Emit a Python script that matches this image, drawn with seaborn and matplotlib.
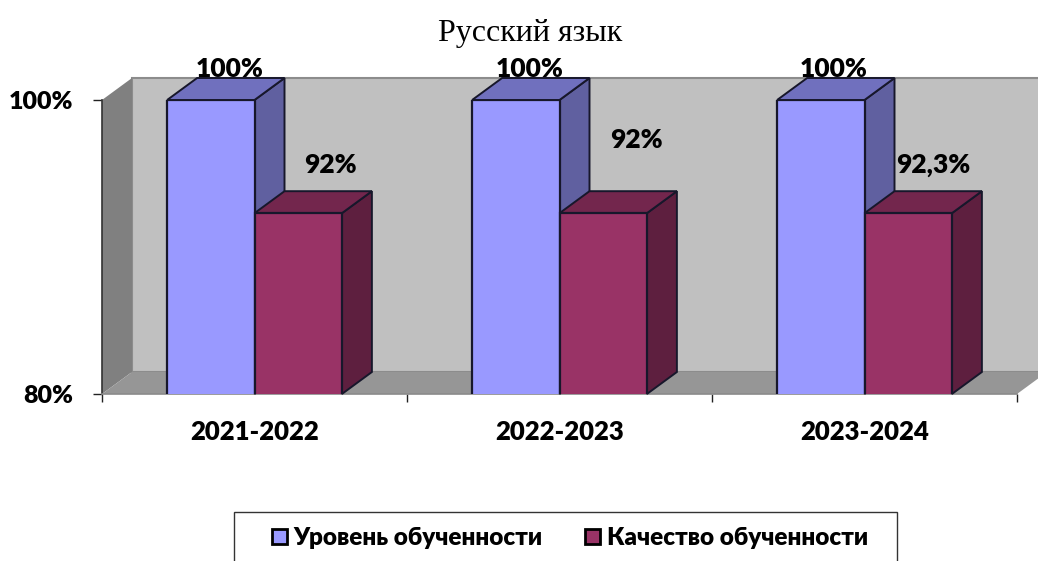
import matplotlib
matplotlib.use("Agg")
import matplotlib.pyplot as plt
import pandas as pd
import seaborn as sns
from matplotlib.patches import Patch, Polygon, Rectangle

years = ["2021-2022", "2022-2023", "2023-2024"]
level_values = [100, 100, 100]
quality_values = [92.3, 92.3, 92.3]
level_labels = ["100%", "100%", "100%"]
quality_labels = ["92%", "92%", "92,3%"]
level_name = "Уровень обученности"
quality_name = "Качество обученности"
y_ticks = [80, 100]
y_tick_labels = ["80%", "100%"]

W, H = 1038, 561
FONT = ["Lato", "Open Sans", "DejaVu Sans"]
EDGE = "#17172b"
BOLD = 800

sns.set_theme(style="white")
plt.rcParams["font.family"] = FONT
plt.rcParams["font.weight"] = BOLD

df = pd.DataFrame({
    "year": years * 2,
    "value": level_values + quality_values,
    "series": [level_name] * 3 + [quality_name] * 3,
})

fig = plt.figure(figsize=(W / 100, H / 100), dpi=100)
ax = fig.add_axes([102 / W, (H - 394) / H, 915 / W, 294 / H])
ax.patch.set_alpha(0)

sns.barplot(
    data=df, x="year", y="value", hue="series", ax=ax, width=0.573, gap=0,
    palette=["#9999FF", "#993366"], saturation=1, edgecolor=EDGE, linewidth=1.6,
    legend=False, zorder=6,
)
ax.set_xlim(-0.5, 2.5)
ax.set_ylim(80, 100)

# depth of the fake 3d box, in data units
dx = 30 / 915 * 3
dy = 22 / 294 * 20
x0, x1 = ax.get_xlim()
y0, y1 = ax.get_ylim()


def add_poly(points, color, zorder, edge="none", lw=0):
    ax.add_patch(Polygon(points, closed=True, facecolor=color, edgecolor=edge,
                         linewidth=lw, clip_on=False, zorder=zorder))


# walls and floor
add_poly([(x0 + dx, y0 + dy), (x1 + dx, y0 + dy), (x1 + dx, y1 + dy), (x0 + dx, y1 + dy)],
         "#C0C0C0", 0, "#8c8c8c", 1.5)
add_poly([(x0, y0), (x0 + dx, y0 + dy), (x0 + dx, y1 + dy), (x0, y1)], "#808080", 1)
add_poly([(x0, y0), (x0 + dx, y0 + dy), (x1 + dx, y0 + dy), (x1, y0)], "#969696", 1)

# top and side faces of each bar
shades = [("#7070BE", "#6060A0", 3), ("#73264D", "#5E1F3F", 4)]
for container, (top_c, side_c, z) in zip(ax.containers, shades):
    for bar in container:
        left = bar.get_x()
        right = left + bar.get_width()
        top = bar.get_height()
        add_poly([(right, y0), (right + dx, y0 + dy), (right + dx, top + dy), (right, top)],
                 side_c, z, EDGE, 1.4)
        add_poly([(left, top), (left + dx, top + dy), (right + dx, top + dy), (right, top)],
                 top_c, z, EDGE, 1.4)

# value labels sit where they were dragged in the original, so offsets are per label
level_offsets = [(19, 31), (14, 31), (13, 31)]
quality_offsets = [(32, 48), (33, 73), (25, 48)]
all_labels = [level_labels, quality_labels]
all_offsets = [level_offsets, quality_offsets]
for container, labels, offsets in zip(ax.containers, all_labels, all_offsets):
    for bar, label, (ox, oy) in zip(container, labels, offsets):
        ax.annotate(
            label, (bar.get_x() + bar.get_width() / 2, bar.get_height()),
            xytext=(ox * 0.72, oy * 0.72), textcoords="offset points",
            ha="center", va="center", fontsize=19, fontweight=BOLD, color="black",
            annotation_clip=False, zorder=10,
        )

sns.despine(ax=ax, top=True, right=True)
for side in ["left", "bottom"]:
    ax.spines[side].set_color("#8a8a8a")
    ax.spines[side].set_linewidth(1.2)
    ax.spines[side].set_zorder(2)
ax.spines["left"].set_color("#333333")

ax.set_xlabel("")
ax.set_ylabel("")
ax.set_yticks(y_ticks)
ax.set_yticklabels(y_tick_labels, fontsize=18, fontweight=BOLD, color="black")
ax.tick_params(axis="y", left=True, length=6.5, width=1, color="#222222", pad=14.5)
ax.set_xticks(range(len(years)))
ax.set_xticklabels(years, fontsize=18.5, fontweight=BOLD, color="black")
ax.tick_params(axis="x", which="major", bottom=False, length=0, pad=19)
ax.set_xticks([x0, x0 + 1, x0 + 2, x1], minor=True)
ax.tick_params(axis="x", which="minor", bottom=True, length=6, width=1, color="#222222")

fig.text(530 / W, 1 - 33 / H, "Русский язык", ha="center", va="center",
         family="Liberation Serif", fontweight="normal", fontsize=23, color="black")

# legend frame runs off the bottom of the picture
fig.add_artist(Rectangle((234 / W, -5 / H), 663 / W, 54 / H, transform=fig.transFigure,
                         facecolor="white", edgecolor="#333333", linewidth=1, clip_on=True))
handles = [Patch(facecolor="#9999FF", edgecolor="black", linewidth=2, label=level_name),
           Patch(facecolor="#993366", edgecolor="black", linewidth=2, label=quality_name)]
fig.legend(handles=handles, ncol=2, loc="center", bbox_to_anchor=(570 / W, 1 - 538 / H),
           frameon=False, handlelength=0.62, handleheight=0.62,
           handletextpad=0.28, columnspacing=1.75, labelcolor="black",
           prop={"family": FONT, "weight": BOLD, "size": 17.5})

fig.savefig("out.png", dpi=100)
